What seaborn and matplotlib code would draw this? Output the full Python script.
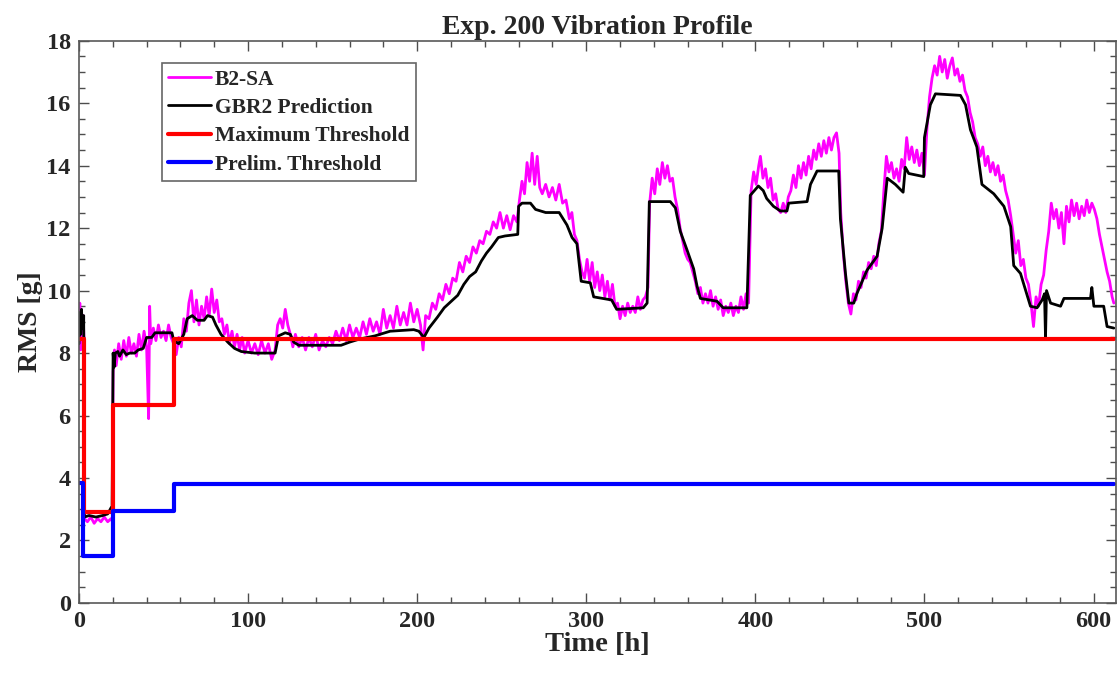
import matplotlib
matplotlib.use("Agg")
import matplotlib.pyplot as plt
from matplotlib.ticker import MultipleLocator
import seaborn as sns

sa_t = [0, 0.5, 1, 1.5, 2, 2.5, 3, 3.2, 5, 7, 9, 11, 13, 15, 17, 19, 19.8,
        20.2, 21, 22, 23.5, 25, 26.5, 28, 29.5, 31, 32.5, 34, 35.5, 37, 38.5, 40, 41.2, 41.8,
        42.5, 44, 45.5, 47, 48.5, 50, 51.5, 53, 54.5, 56, 57.5, 59, 60.5, 62, 63.5, 65, 66.5,
        68, 69.5, 71, 72.5, 74, 75.5, 77, 78.5, 80, 81.5, 83, 84.5, 86, 87.5, 89, 90.5, 92,
        93.5, 95, 96.5, 98, 100, 102, 104, 106, 108, 110, 112, 114, 116, 117.5, 119, 120.5,
        122, 123.5, 125, 126.5, 128, 130, 132, 134, 136, 138, 140, 142, 144, 146, 148, 150,
        152, 154, 156, 158, 160, 162, 164, 166, 168, 170, 172, 174, 176, 178, 180, 182, 184,
        186, 188, 190, 192, 194, 196, 198, 200, 202, 203.5, 205, 207, 209, 211, 213, 215, 217,
        219, 221, 223, 225, 227, 229, 231, 233, 235, 237, 239, 241, 243, 245, 247, 249, 251,
        253, 255, 257, 259, 260.5, 262, 263.5, 265, 266.5, 268, 269.5, 271, 272.5, 274, 276,
        278, 280, 282, 284, 286, 288, 290, 291.5, 293, 294.5, 296, 297.5, 299, 300.5, 302,
        303.5, 305, 306.5, 308, 309.5, 311, 312.5, 314, 315.5, 317, 318.5, 320, 321.5, 323,
        324.5, 326, 327.5, 329, 330.5, 332, 333.5, 335, 336.5, 337.5, 339, 340.5, 342, 343.5,
        345, 346.5, 348, 349.5, 351, 352.5, 354, 355.5, 357, 358.5, 360, 361.5, 363, 364.5,
        366, 367.5, 369, 370.5, 372, 373.5, 375, 376.5, 378, 379.5, 381, 382.5, 384, 385.5,
        387, 388.5, 390, 391.5, 393, 394.5, 396, 397.5, 399, 400.5, 402, 403, 404.5, 406,
        407.5, 409, 410.5, 412, 413.5, 415, 416.5, 418, 419.5, 421, 422.5, 424, 425.5, 427,
        428.5, 430, 431.5, 433, 434.5, 436, 437.5, 439, 440.5, 442, 443.5, 445, 446.5, 448,
        449.5, 450.5, 452, 453.5, 455, 456.5, 458, 459.5, 461, 462.5, 464, 465.5, 467, 468.5,
        470, 471.5, 473, 474.5, 476, 477.5, 479, 480.5, 482, 483.5, 485, 486.5, 488, 489.5,
        491, 492.5, 494, 495.5, 497, 498.5, 500, 501.5, 503, 504.5, 506, 507.5, 509, 510.5,
        512, 513.5, 515, 516.5, 518, 519.5, 521, 522.5, 524, 525.5, 527, 528.5, 530, 531.5,
        533, 534.5, 536, 537.5, 539, 540.5, 542, 543.5, 545, 546.5, 548, 549.5, 551, 552.5,
        554, 555.5, 557, 558.5, 560, 561.5, 563, 564.5, 566, 567.5, 569, 570.5, 572, 573.5,
        575, 576.5, 578, 579.5, 581, 582.5, 584, 585.5, 587, 588.5, 590, 591.5, 593, 594.5,
        596, 597.5, 599, 600.5, 602, 603.5, 605, 606.5, 608, 609.5, 611, 612]
sa_rms = [8.3, 9.6, 8.1, 9.4, 8.6, 9.2, 8.4, 2.7, 2.6, 2.75, 2.55, 2.7, 2.6, 2.75, 2.6, 2.7, 2.6,
          7.4, 8.1, 7.6, 8.3, 7.8, 8.4, 7.9, 8.5, 8.0, 8.3, 7.9, 8.6, 8.1, 8.7, 8.2, 5.9, 9.5,
          8.3, 8.8, 8.4, 8.9, 8.5, 8.7, 8.4, 8.9, 8.5, 8.3, 7.95, 8.5, 8.2, 9.1, 8.7, 9.6, 10.0,
          9.0, 9.7, 8.9, 9.5, 9.1, 9.8, 9.2, 10.05, 9.3, 9.7, 9.0, 9.1, 8.6, 8.9, 8.3, 8.7, 8.2,
          8.6, 8.1, 8.5, 8.0, 8.4, 8.0, 8.3, 7.95, 8.4, 8.0, 8.3, 7.8, 8.1, 8.9, 9.1, 8.8,
          9.4, 8.9, 8.6, 8.2, 8.6, 8.2, 8.5, 8.1, 8.5, 8.2, 8.6, 8.1, 8.4, 8.2, 8.5, 8.3,
          8.7, 8.4, 8.8, 8.4, 8.9, 8.5, 8.8, 8.5, 9.0, 8.6, 9.1, 8.7, 9.0, 8.6, 9.4, 8.8, 9.2,
          8.8, 9.5, 8.9, 9.3, 8.9, 9.6, 9.0, 9.4, 8.9, 8.1, 9.2, 9.1, 9.6, 9.4, 9.9, 9.7, 10.2,
          9.9, 10.4, 10.3, 10.9, 10.6, 11.1, 10.9, 11.4, 11.2, 11.6, 11.5, 11.9, 11.8, 12.2, 12.0, 12.5, 12.0,
          12.4, 11.95, 12.4, 12.2, 12.9, 13.5, 13.1, 14.1, 13.5, 14.4, 13.4, 14.3, 13.3, 13.1, 13.4,
          13.0, 13.3, 12.9, 13.4, 12.8, 12.9, 12.3, 12.5, 11.8, 11.6, 11.0, 10.6, 10.4, 11.0, 10.3,
          10.9, 10.1, 10.6, 10.0, 10.5, 9.8, 10.3, 9.7, 10.2, 9.5, 9.6, 9.1, 9.5, 9.2,
          9.6, 9.3, 9.5, 9.3, 9.8, 9.4, 9.7, 9.8, 10.1, 12.8, 13.6, 13.1, 13.9, 13.4,
          14.1, 13.6, 14.0, 13.5, 13.6, 13.0, 12.6, 12.0, 11.6, 11.2, 11.0, 10.9, 10.6, 10.3,
          9.9, 10.1, 9.6, 9.9, 9.6, 10.0, 9.5, 9.8, 9.4, 9.7, 9.2, 9.5, 9.3, 9.6,
          9.2, 9.5, 9.3, 9.8, 9.4, 9.9, 9.6, 13.2, 13.8, 13.4, 14.0, 14.3, 13.6, 13.9,
          13.3, 13.6, 12.9, 13.1, 12.6, 12.5, 12.8, 12.5, 13.0, 13.2, 13.7, 13.3, 14.0, 13.6,
          14.1, 13.7, 14.3, 13.9, 14.5, 14.2, 14.7, 14.3, 14.8, 14.4, 14.9, 14.5, 14.9, 15.05,
          14.4, 12.5, 11.2, 10.3, 9.6, 9.25, 9.9, 9.7, 10.3, 10.1, 10.6, 10.4, 10.9, 10.7,
          11.1, 10.8, 11.5, 11.9, 13.2, 14.3, 13.8, 14.1, 13.6, 13.9, 13.5, 14.2, 13.9, 14.9,
          14.2, 14.6, 14.1, 14.5, 14.0, 14.4, 13.7, 15.2, 16.2, 16.8, 17.2, 16.9, 17.5, 17.0,
          17.4, 16.8, 17.2, 17.45, 16.9, 17.1, 16.7, 16.9, 16.4, 16.2, 15.7, 15.4, 14.9, 14.7,
          14.3, 14.6, 14.0, 14.3, 13.8, 14.1, 13.7, 14.0, 13.5, 13.7, 13.2, 12.9, 12.4, 11.8,
          11.2, 11.6, 10.8, 11.0, 10.4, 10.2, 9.6, 8.85, 9.8, 9.5, 10.2, 10.5, 11.3, 11.9,
          12.8, 12.3, 12.6, 12.0, 12.5, 11.5, 12.7, 12.2, 12.9, 12.4, 12.8, 12.3, 12.7, 12.4,
          12.9, 12.5, 12.8, 12.6, 12.3, 11.8, 11.4, 11.0, 10.6, 10.3, 9.8, 9.6]

# GBR2 prediction
gbr_t = [0, 0.5, 1, 1.5, 2, 2.8, 3.2, 6, 10, 14, 17, 19, 19.6, 20.2, 20.8, 21.5, 23, 24, 26, 28,
         30, 33, 35, 38, 40, 43, 45, 49, 55, 56, 59, 60.5, 62, 64, 67, 70, 74, 76, 79, 81, 84,
         88, 92, 96, 104, 116, 118, 122, 125, 127, 130, 155, 160, 166, 175, 184, 198, 201, 204,
         207, 212, 216, 221, 224, 227.6, 231, 234.6, 238, 241, 244, 248, 252, 259.5, 260, 262,
         267, 270, 276, 284, 288.6, 291.6, 294.5, 297, 302.4, 304.4, 315, 318, 333.7, 336,
         337.3, 349.7, 352.7, 355.6, 359.6, 363.5, 365.5, 367.5, 377.3, 381, 395, 397, 401.8,
         404.7, 406.7, 410.7, 414.8, 418.7, 419.7, 430.6, 432.6, 436.5, 449.3, 450.3, 453.3,
         455.3, 458.2, 460, 466, 472, 475, 478, 482.8, 487.4, 488.7, 490.7, 499.6, 500, 503.5,
         506.5, 521.3, 524.3, 527.2, 531, 534, 541, 547, 551, 552.8, 556.8, 562.7, 566.6,
         569.6, 571, 571.6, 572.2, 574.6, 580.5, 582.5, 598.2, 599, 600.2, 606, 608, 612]
gbr_rms = [8.3, 9.3, 8.6, 9.4, 8.8, 9.2, 2.75, 2.8, 2.75, 2.8, 2.85, 3.05, 3.05, 8.0, 7.55, 8.0,
           8.05, 7.9, 8.1, 7.95, 8.0, 8.0, 8.1, 8.15, 8.5, 8.5, 8.65, 8.65, 8.65, 8.4, 8.3, 8.45,
           8.6, 9.1, 9.2, 9.05, 9.05, 9.2, 9.15, 8.9, 8.6, 8.35, 8.15, 8.05, 8.0, 8.0, 8.55, 8.65,
           8.6, 8.35, 8.25, 8.25, 8.35, 8.45, 8.55, 8.7, 8.75, 8.7, 8.5, 8.8, 9.15, 9.45, 9.7,
           9.85, 10.2, 10.45, 10.6, 10.95, 11.2, 11.4, 11.7, 11.75, 11.8, 12.7, 12.8, 12.8,
           12.6, 12.5, 12.5, 12.1, 11.7, 11.5, 10.3, 10.25, 9.8, 9.7, 9.4, 9.45, 9.6, 12.85,
           12.85, 12.65, 11.9, 11.3, 10.7, 10.15, 9.75, 9.66, 9.45, 9.45, 13.05, 13.35, 13.2,
           12.95, 12.7, 12.55, 12.55, 12.8, 12.85, 13.4, 13.83, 13.83, 12.3, 10.55, 9.6, 9.6,
           9.9, 10.65, 11.1, 12.0, 13.6, 13.4, 13.15, 13.95, 13.75, 13.65, 14.9, 15.95, 16.3,
           16.25, 15.95, 15.15, 14.6, 13.4, 13.1, 12.7, 12.05, 10.8, 10.55, 9.5, 9.45, 9.7,
           9.9, 8.5, 10.0, 9.6, 9.5, 9.75, 9.75, 10.1, 9.5, 9.5, 8.85, 8.8]

# thresholds (step changes)
max_t = [0, 3, 20, 56, 612]
max_val = [8.45, 2.9, 6.35, 8.45, 8.45]
pre_t = [0, 2.5, 20, 56, 612]
pre_val = [3.85, 1.5, 2.95, 3.8, 3.8]

sns.set_style("ticks")
plt.rcParams['font.family'] = ['Liberation Serif', 'DejaVu Serif']
plt.rcParams['font.weight'] = 'bold'

fig, ax = plt.subplots(figsize=(11.2, 6.79), dpi=100)
fig.subplots_adjust(left=0.0705, right=0.996, bottom=0.112, top=0.94)

sns.lineplot(x=sa_t, y=sa_rms, color='#ff00ff', lw=2.0, estimator=None, ax=ax, label='B2-SA')
sns.lineplot(x=gbr_t, y=gbr_rms, color='black', lw=2.0, estimator=None, ax=ax, label='GBR2 Prediction')
sns.lineplot(x=max_t, y=max_val, color='#ff0000', lw=3.0, estimator=None, drawstyle='steps-post',
             ax=ax, label='Maximum Threshold')
sns.lineplot(x=pre_t, y=pre_val, color='#0000ff', lw=3.0, estimator=None, drawstyle='steps-post',
             ax=ax, label='Prelim. Threshold')

ax.set_xlim(0, 613)
ax.set_ylim(0, 18)
ax.xaxis.set_major_locator(MultipleLocator(100))
ax.xaxis.set_minor_locator(MultipleLocator(20))
ax.yaxis.set_major_locator(MultipleLocator(2))
ax.yaxis.set_minor_locator(MultipleLocator(0.5))
ax.tick_params(which='both', direction='in', top=True, right=True, color='0.3', width=1)
ax.tick_params(which='major', length=7, labelsize=17.5, pad=6)
ax.tick_params(which='minor', length=4)
for s in ax.spines.values():
    s.set_color('0.35')
    s.set_linewidth(1.2)
    s.set_visible(True)

ax.set_title("Exp. 200 Vibration Profile", fontsize=20, fontweight='bold', pad=5)
ax.set_xlabel("Time [h]", fontsize=20.5, fontweight='bold', labelpad=0)
ax.set_ylabel("RMS [g]", fontsize=20, fontweight='bold', labelpad=2)

leg = ax.legend(loc='upper left', bbox_to_anchor=(0.08, 0.96), fontsize=15.5, frameon=True,
                fancybox=False, framealpha=1, edgecolor='0.4', handlelength=2.0,
                handletextpad=0.15, borderpad=0.3, labelspacing=0.38, borderaxespad=0)
leg.get_frame().set_linewidth(1.2)
for t in leg.get_texts():
    t.set_fontweight('bold')

plt.savefig("out.png", dpi=100)
